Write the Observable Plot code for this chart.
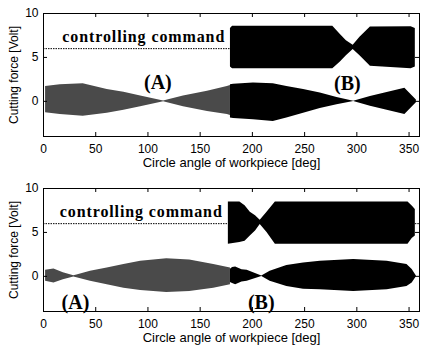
<!DOCTYPE html>
<html>
<head>
<meta charset="utf-8">
<script src="https://cdn.jsdelivr.net/npm/d3@7"></script>
<script src="https://cdn.jsdelivr.net/npm/@observablehq/plot@0.6"></script>
<style>
  html, body { margin: 0; padding: 0; background: #fff; }
  #chart { width: 421px; }
  #chart svg { display: block; }
</style>
</head>
<body>
<div id="chart"></div>
<script>
// Axis ticks and labels
const xTicks = [0, 50, 100, 150, 200, 250, 300, 350];
const yTicks = [0, 5, 10];
const xLabel = "Circle angle of workpiece [deg]";
const yLabel = "Cutting force [Volt]";
const commandLabel = "controlling command";
const commandLevel = 6;

// Upper panel: cutting-force envelope before control (deg, upper, lower, Volt)
const topFreeAngle = [2, 16, 38, 61, 77, 93, 115, 134, 157, 176, 179];
const topFreeHigh  = [1.7, 1.9, 2.0, 1.35, 1.05, 0.6, 0.05, 0.6, 1.15, 1.7, 1.8];
const topFreeLow   = [-1.3, -1.5, -1.7, -1.35, -1.0, -0.6, -0.05, -0.6, -1.15, -1.5, -1.6];

// Upper panel: cutting-force envelope under control
const topCtrlAngle = [179, 182, 201, 220, 233, 249, 265, 281, 297, 313, 329, 346, 357];
const topCtrlHigh  = [1.9, 1.95, 2.1, 2.0, 1.7, 1.35, 0.95, 0.45, 0.02, 0.55, 1.0, 1.5, 0.15];
const topCtrlLow   = [-1.9, -1.95, -2.1, -2.3, -1.9, -1.35, -0.8, -0.4, -0.02, -0.55, -1.0, -1.5, -0.15];

// Upper panel: controlling command envelope
const topCmdAngle = [179, 181, 277, 284, 290, 296.5, 303, 313, 352, 356];
const topCmdHigh  = [8.3, 8.55, 8.55, 7.65, 6.9, 6.4, 7.3, 8.45, 8.5, 8.3];
const topCmdLow   = [3.9, 3.7, 3.7, 4.45, 5.2, 5.9, 5.2, 4.0, 3.7, 3.9];

// Lower panel: cutting-force envelope before control
const botFreeAngle = [2, 10, 19, 29, 32, 45, 61, 77, 93, 118, 140, 163, 179];
const botFreeHigh  = [0.7, 0.85, 0.4, 0.08, 0.15, 0.57, 0.96, 1.35, 1.72, 2.0, 1.85, 1.35, 0.96];
const botFreeLow   = [-0.57, -0.77, -0.38, -0.08, -0.15, -0.57, -0.96, -1.35, -1.6, -1.85, -1.72, -1.35, -0.96];

// Lower panel: cutting-force envelope under control
const botCtrlAngle = [179, 181, 184, 190, 195, 209, 217, 233, 249, 265, 297, 329, 348, 353, 357];
const botCtrlHigh  = [0.8, 1.0, 1.07, 0.75, 0.69, 0.03, 0.57, 1.23, 1.53, 1.72, 1.92, 1.72, 1.35, 0.77, 0.05];
const botCtrlLow   = [-0.7, -0.8, -0.96, -0.65, -0.57, -0.03, -0.57, -1.15, -1.46, -1.53, -1.72, -1.53, -1.15, -0.77, -0.05];

// Lower panel: controlling command envelope
const botCmdAngle = [177, 188, 193, 198, 203, 207.5, 214, 222, 349, 353, 356];
const botCmdHigh  = [8.45, 8.45, 8.05, 7.3, 6.9, 6.4, 7.3, 8.45, 8.45, 8.0, 7.6];
const botCmdLow   = [3.65, 3.85, 4.0, 4.6, 5.15, 5.9, 5.0, 3.65, 3.65, 4.3, 4.6];

// Segments where the command is shown as a reference line only
const topCmdLine = [[0, 179]];
const botCmdLine = [[0, 177], [356, 360]];

const serif = "'Liberation Serif', 'Times New Roman', serif";

function envelope(angle, high, low) {
  return angle.map((a, i) => ({angle: a, high: high[i], low: low[i]}));
}

function panel(p) {
  const W = 421, H = 175, mt = 13, mb = 39, ml = 43, mr = 2;
  const innerW = W - ml - mr, innerH = H - mt - mb, tick = 4;
  const svg = Plot.plot({
    width: W, height: H,
    marginTop: mt, marginBottom: mb, marginLeft: ml, marginRight: mr,
    style: {fontFamily: "'Liberation Sans', Arial, sans-serif", background: "#fff", color: "#000"},
    x: {domain: [0, 360]},
    y: {domain: [-4, 10]},
    marks: [
      Plot.ruleY(p.cmdLine, {x1: d => d[0], x2: d => d[1], y: commandLevel, stroke: "#000", strokeWidth: 1, strokeDasharray: "1.5,1"}),
      // densely sampled uncontrolled signal reads as a dark grey band
      Plot.areaY(envelope(...p.free), {x: "angle", y1: "low", y2: "high", fill: "#4a4a4a"}),
      Plot.areaY(envelope(...p.ctrl), {x: "angle", y1: "low", y2: "high", fill: "#000"}),
      Plot.areaY(envelope(...p.cmd), {x: "angle", y1: "low", y2: "high", fill: "#000"}),
      Plot.text([commandLabel], {x: p.cmdText[0], y: p.cmdText[1], text: d => d, textAnchor: "start", lineAnchor: "bottom", fontFamily: serif, fontSize: 16, fontWeight: "bold", fill: "#000"}),
      Plot.text(p.notes, {x: "angle", y: "value", text: "label", lineAnchor: "bottom", fontFamily: serif, fontSize: 20, fontWeight: "bold", fill: "#000"}),
      Plot.frame({stroke: "#000", strokeWidth: 1}),
      Plot.tickX(xTicks, {x: d => d, insetTop: innerH - tick, stroke: "#000"}),
      Plot.tickX(xTicks, {x: d => d, insetBottom: innerH - tick, stroke: "#000"}),
      Plot.tickY(yTicks, {y: d => d, insetRight: innerW - tick, stroke: "#000"}),
      Plot.tickY(yTicks, {y: d => d, insetLeft: innerW - tick, stroke: "#000"}),
      Plot.axisX({ticks: xTicks, tickSize: 0, tickPadding: 8, fontSize: 12, label: null}),
      Plot.axisY({ticks: yTicks, tickSize: 0, tickPadding: 5, fontSize: 12, label: null}),
      Plot.text([xLabel], {frameAnchor: "bottom", dy: 30, lineAnchor: "bottom", text: d => d, fontSize: 13, fill: "#000"}),
      Plot.text([yLabel], {frameAnchor: "left", dx: -29, rotate: -90, textAnchor: "middle", lineAnchor: "middle", text: d => d, fontSize: 12, fill: "#000"})
    ]
  });
  svg.querySelectorAll("text").forEach(t => {
    if (t.textContent === commandLabel) {
      t.setAttribute("textLength", 162);
      t.setAttribute("lengthAdjust", "spacing");
    }
  });
  return svg;
}

const chart = document.getElementById("chart");
chart.append(panel({
  free: [topFreeAngle, topFreeHigh, topFreeLow],
  ctrl: [topCtrlAngle, topCtrlHigh, topCtrlLow],
  cmd: [topCmdAngle, topCmdHigh, topCmdLow],
  cmdLine: topCmdLine,
  cmdText: [18, 6.7],
  notes: [{label: "(A)", angle: 109.5, value: 1.35}, {label: "(B)", angle: 291, value: 1.3}]
}));
chart.append(panel({
  free: [botFreeAngle, botFreeHigh, botFreeLow],
  ctrl: [botCtrlAngle, botCtrlHigh, botCtrlLow],
  cmd: [botCmdAngle, botCmdHigh, botCmdLow],
  cmdLine: botCmdLine,
  cmdText: [15.6, 6.7],
  notes: [{label: "(A)", angle: 30.6, value: -3.66}, {label: "(B)", angle: 208.5, value: -3.66}]
}));
</script>
</body>
</html>
